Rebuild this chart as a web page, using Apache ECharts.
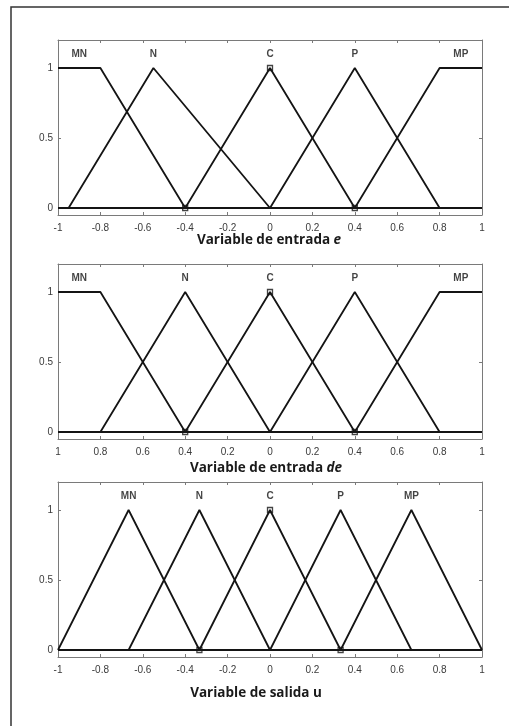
<!DOCTYPE html>
<html>
<head>
<meta charset="utf-8">
<script src="https://cdn.jsdelivr.net/npm/echarts@6/dist/echarts.min.js"></script>
<style>
  html, body { margin: 0; padding: 0; background: #fff; }
  #chart { width: 509px; height: 726px; }
</style>
</head>
<body>
<div id="chart"></div>
<script>
// Membership-function breakpoints [x, membership] for each fuzzy set.
const setNames = ['MN', 'N', 'C', 'P', 'MP'];

// Input variable e
const eMN = [[-1, 1], [-0.8, 1], [-0.4, 0], [1, 0]];
const eN  = [[-1, 0], [-0.95, 0], [-0.55, 1], [0, 0], [1, 0]];
const eC  = [[-1, 0], [-0.4, 0], [0, 1], [0.4, 0], [1, 0]];
const eP  = [[-1, 0], [0, 0], [0.4, 1], [0.8, 0], [1, 0]];
const eMP = [[-1, 0], [0.4, 0], [0.8, 1], [1, 1]];
const eLabelX = [-0.9, -0.55, 0, 0.4, 0.9];

// Input variable de
const deMN = [[-1, 1], [-0.8, 1], [-0.4, 0], [1, 0]];
const deN  = [[-1, 0], [-0.8, 0], [-0.4, 1], [0, 0], [1, 0]];
const deC  = [[-1, 0], [-0.4, 0], [0, 1], [0.4, 0], [1, 0]];
const deP  = [[-1, 0], [0, 0], [0.4, 1], [0.8, 0], [1, 0]];
const deMP = [[-1, 0], [0.4, 0], [0.8, 1], [1, 1]];
const deLabelX = [-0.9, -0.4, 0, 0.4, 0.9];

// Output variable u
const uMN = [[-1, 0], [-0.667, 1], [-0.333, 0], [1, 0]];
const uN  = [[-1, 0], [-0.667, 0], [-0.333, 1], [0, 0], [1, 0]];
const uC  = [[-1, 0], [-0.333, 0], [0, 1], [0.333, 0], [1, 0]];
const uP  = [[-1, 0], [0, 0], [0.333, 1], [0.667, 0], [1, 0]];
const uMP = [[-1, 0], [0.333, 0], [0.667, 1], [1, 0]];
const uLabelX = [-0.667, -0.333, 0, 0.333, 0.667];

// Selection markers on the central set
const eMarks  = [[-0.4, 0], [0, 1], [0.4, 0]];
const deMarks = [[-0.4, 0], [0, 1], [0.4, 0]];
const uMarks  = [[-0.333, 0], [0, 1], [0.333, 0]];

// Tick labels
const ticksE  = ['-1', '-0.8', '-0.6', '-0.4', '-0.2', '0', '0.2', '0.4', '0.6', '0.8', '1'];
const ticksDE = ['1', '0.8', '0.6', '0.4', '0.2', '0', '0.2', '0.4', '0.6', '0.8', '1'];
const ticksU  = ['-1', '-0.8', '-0.6', '-0.4', '-0.2', '0', '0.2', '0.4', '0.6', '0.8', '1'];
const yTicks = [0, 0.5, 1];
const labelY = 1.1;

const panels = [
  { sets: [eMN, eN, eC, eP, eMP], labelX: eLabelX, marks: eMarks, ticks: ticksE,
    title: '{b|Variable de entrada }{i|e}', top: 40, titleTop: 233, titleX: 269 },
  { sets: [deMN, deN, deC, deP, deMP], labelX: deLabelX, marks: deMarks, ticks: ticksDE,
    title: '{b|Variable de entrada }{i|de}', top: 264, titleTop: 461, titleX: 266 },
  { sets: [uMN, uN, uC, uP, uMP], labelX: uLabelX, marks: uMarks, ticks: ticksU,
    title: '{b|Variable de salida u}', top: 482, titleTop: 686, titleX: 256 }
];

const axisGray = '#7a7a7a';
const inkColor = '#141414';
const font = 'Liberation Sans, Arial, sans-serif';

const grid = [], xAxis = [], yAxis = [], series = [], title = [];

panels.forEach((p, i) => {
  grid.push({ left: 58, width: 424, top: p.top, height: 175 });

  const xBase = {
    gridIndex: i, type: 'value', min: -1, max: 1, interval: 0.2,
    splitLine: { show: false },
    axisLine: { show: true, onZero: false, lineStyle: { color: axisGray, width: 1 } },
    axisTick: { show: true, inside: true, length: 3, lineStyle: { color: axisGray } }
  };
  xAxis.push(Object.assign({}, xBase, {
    position: 'bottom',
    axisLabel: {
      show: true, margin: 8, fontSize: 10, color: '#3a3a3a', fontFamily: font,
      formatter: v => p.ticks[Math.round((v + 1) / 0.2)]
    }
  }));
  xAxis.push(Object.assign({}, xBase, { position: 'top', axisLabel: { show: false } }));

  const yBase = {
    gridIndex: i, type: 'value', min: -0.05, max: 1.2,
    splitLine: { show: false },
    axisLine: { show: true, onZero: false, lineStyle: { color: axisGray, width: 1 } },
    axisTick: { show: true, inside: true, length: 3, customValues: yTicks, lineStyle: { color: axisGray } }
  };
  yAxis.push(Object.assign({}, yBase, {
    position: 'left',
    axisLabel: { show: true, margin: 5, fontSize: 10, color: '#3a3a3a', fontFamily: font, customValues: yTicks }
  }));
  yAxis.push(Object.assign({}, yBase, { position: 'right', axisLabel: { show: false } }));

  const xi = i * 2, yi = i * 2;

  p.sets.forEach((pts, k) => {
    series.push({
      type: 'line', name: setNames[k], xAxisIndex: xi, yAxisIndex: yi,
      data: pts, showSymbol: false, symbol: 'none', silent: true, animation: false,
      lineStyle: { color: inkColor, width: 1.8 }
    });
  });

  series.push({
    type: 'scatter', xAxisIndex: xi, yAxisIndex: yi, animation: false, silent: true,
    data: p.marks, symbol: 'rect', symbolSize: 5,
    itemStyle: { color: 'rgba(255,255,255,0)', borderColor: inkColor, borderWidth: 1.3 }
  });

  series.push({
    type: 'scatter', xAxisIndex: xi, yAxisIndex: yi, animation: false, silent: true,
    symbolSize: 0,
    data: setNames.map((n, k) => ({ name: n, value: [p.labelX[k], labelY] })),
    label: {
      show: true, position: 'inside', formatter: d => d.name,
      fontSize: 10, fontWeight: 'bold', color: inkColor, fontFamily: font
    }
  });

  title.push({
    text: p.title, left: p.titleX, top: p.titleTop, textAlign: 'center', padding: 0,
    textStyle: {
      rich: {
        b: { fontSize: 13.5, fontWeight: 'bold', color: '#1a1a1a', fontFamily: 'Open Sans, sans-serif' },
        i: { fontSize: 13.5, fontWeight: 'bold', fontStyle: 'italic', color: '#1a1a1a', fontFamily: 'Open Sans, sans-serif' }
      }
    }
  });
});

const chart = echarts.init(document.getElementById('chart'), null, { renderer: 'canvas' });
chart.setOption({
  backgroundColor: '#fff',
  animation: false,
  title, grid, xAxis, yAxis, series,
  graphic: [{
    type: 'rect', silent: true, z: -1,
    shape: { x: 11, y: 7, width: 700, height: 900 },
    style: { fill: 'none', stroke: '#333', lineWidth: 1.5 }
  }]
});
</script>
</body>
</html>
